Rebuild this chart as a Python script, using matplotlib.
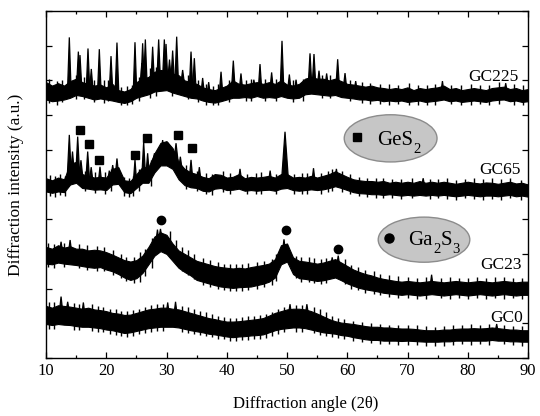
import numpy as np
import matplotlib
matplotlib.use("Agg")
import matplotlib.pyplot as plt
from matplotlib.patches import Ellipse
from matplotlib.ticker import MultipleLocator, NullFormatter

plt.rcParams['font.family'] = ['Liberation Serif', 'DejaVu Serif']
plt.rcParams['mathtext.fontset'] = 'stix'

# ---------------- data ----------------
angle_grid = np.arange(10, 91, 1)   # 2theta sampling of the noise band

gc225_top = [7.95, 7.85, 7.92, 7.85, 7.98, 8.05, 7.95, 7.90, 7.85, 7.88, 7.80,
             7.90, 7.72, 7.68, 7.75, 7.95, 8.05, 8.10, 8.25, 8.30, 8.28,
             8.20, 8.15, 8.00, 7.95, 7.90, 7.80, 7.75, 7.72, 7.78, 7.85,
             8.00, 7.90, 7.88, 7.92, 7.95, 7.90, 7.95, 7.90, 8.00, 7.88,
             7.85, 7.90, 8.05, 8.10, 8.05, 8.05, 8.00, 8.05, 7.98, 7.90,
             7.88, 7.85, 7.82, 7.85, 7.80, 7.78, 7.75, 7.78, 7.75, 7.80,
             7.72, 7.78, 7.75, 7.78, 7.80, 7.85, 7.75, 7.78, 7.72, 7.75,
             7.78, 7.75, 7.72, 7.78, 7.80, 7.82, 7.75, 7.78, 7.72, 7.75]
gc225_bottom = [7.45, 7.40, 7.42, 7.45, 7.50, 7.58, 7.55, 7.50, 7.45, 7.48, 7.45,
                7.42, 7.38, 7.35, 7.40, 7.50, 7.55, 7.60, 7.68, 7.70, 7.72,
                7.65, 7.60, 7.55, 7.50, 7.48, 7.42, 7.38, 7.36, 7.40, 7.45,
                7.50, 7.50, 7.52, 7.50, 7.55, 7.50, 7.52, 7.50, 7.55, 7.50,
                7.48, 7.50, 7.60, 7.62, 7.60, 7.58, 7.56, 7.58, 7.52, 7.50,
                7.48, 7.45, 7.45, 7.42, 7.44, 7.40, 7.42, 7.40, 7.42, 7.38,
                7.40, 7.42, 7.38, 7.40, 7.42, 7.45, 7.40, 7.42, 7.38, 7.40,
                7.42, 7.40, 7.38, 7.42, 7.44, 7.45, 7.40, 7.42, 7.38, 7.40]
gc225_peak_pos = [13.87, 15.37, 15.64, 16.97, 17.52, 18.85, 20.79, 21.78, 24.77,
                  25.9, 26.04, 26.49, 27.70, 28.70, 29.64, 29.92, 30.5, 31.02,
                  31.69, 32.68, 34.07, 34.62, 36.0, 37.0, 39.05, 41.09, 42.36,
                  44.5, 45.52, 47.45, 49.17, 50.39, 51.5, 53.82, 54.48, 55.31,
                  56.58, 58.41, 59.63, 61.4, 75.8, 86.3]
gc225_peak_top = [9.24, 8.83, 8.73, 8.92, 8.33, 8.90, 8.70, 9.09, 9.10,
                  8.50, 9.07, 9.18, 8.97, 9.18, 9.18, 9.05, 8.60, 8.86,
                  9.26, 8.30, 8.83, 8.64, 8.07, 7.95, 8.25, 8.57, 8.20,
                  8.02, 8.47, 8.23, 9.14, 8.17, 8.02, 8.78, 8.76, 8.28,
                  8.20, 8.61, 8.21, 7.98, 7.98, 7.92]
gc225_peak_base = [7.7, 7.8, 7.8, 7.7, 7.7, 7.65, 7.65, 7.65, 7.6,
                   7.8, 7.8, 7.85, 7.9, 8.0, 8.0, 8.0, 8.0, 7.95,
                   7.9, 7.9, 7.75, 7.7, 7.6, 7.55, 7.6, 7.75, 7.7,
                   7.7, 7.7, 7.7, 7.75, 7.7, 7.65, 7.85, 7.85, 7.8,
                   7.8, 7.8, 7.75, 7.65, 7.6, 7.6]
gc225_noise_pos = [10.5, 11.8, 12.6, 15.0, 16.3, 17.9, 19.6, 20.3, 22.5, 23.4,
                   24.2, 25.4, 27.2, 28.2, 30.9, 33.5, 35.3, 36.6, 37.8, 38.6,
                   40.4, 43.2, 44.0, 46.3, 48.2, 51.0, 52.6, 55.8, 57.2, 60.5,
                   62.5, 63.8, 65.4, 67.0, 68.5, 70.3, 71.7, 73.2, 74.6, 77.3,
                   78.8, 80.5, 82.0, 83.6, 85.2, 87.6, 89.2]
gc225_noise_low = [7.35, 7.30, 7.38, 7.45, 7.45, 7.38, 7.35, 7.40, 7.28, 7.30,
                   7.32, 7.40, 7.50, 7.55, 7.55, 7.45, 7.38, 7.30, 7.28, 7.30,
                   7.38, 7.42, 7.40, 7.40, 7.42, 7.38, 7.42, 7.50, 7.48, 7.40,
                   7.35, 7.33, 7.33, 7.30, 7.32, 7.28, 7.30, 7.30, 7.30, 7.32,
                   7.28, 7.30, 7.32, 7.28, 7.32, 7.30, 7.30]
gc225_noise_high = [8.05, 7.98, 8.02, 8.15, 8.10, 8.00, 8.02, 8.00, 7.80, 7.85,
                    7.88, 8.10, 8.35, 8.40, 8.45, 8.15, 8.02, 7.90, 7.85, 7.90,
                    8.00, 8.02, 8.05, 8.05, 8.05, 8.00, 8.05, 8.15, 8.15, 8.00,
                    7.95, 7.92, 7.90, 7.90, 7.88, 7.92, 7.86, 7.88, 7.90, 7.88,
                    7.86, 7.90, 7.88, 7.86, 7.95, 7.90, 7.88]

gc65_top = [5.18, 5.12, 5.20, 5.15, 5.60, 5.65, 5.30, 5.25, 5.20, 5.22, 5.20,
            5.45, 5.50, 5.12, 5.10, 5.30, 5.50, 5.50, 5.90, 6.20, 6.25,
            6.05, 5.65, 5.45, 5.35, 5.30, 5.22, 5.18, 5.30, 5.28, 5.20,
            5.22, 5.30, 5.18, 5.22, 5.20, 5.22, 5.25, 5.20, 5.30, 5.30,
            5.20, 5.22, 5.20, 5.25, 5.20, 5.25, 5.30, 5.38, 5.30, 5.22,
            5.15, 5.12, 5.10, 5.10, 5.08, 5.10, 5.05, 5.08, 5.05, 5.08,
            5.05, 5.10, 5.05, 5.08, 5.05, 5.08, 5.05, 5.02, 5.05, 5.08,
            5.05, 5.03, 5.06, 5.05, 5.02, 5.05, 5.08, 5.03, 5.05, 5.00]
gc65_bottom = [4.80, 4.76, 4.80, 4.78, 5.00, 5.05, 4.90, 4.88, 4.85, 4.86, 4.84,
               5.00, 5.02, 4.78, 4.75, 4.90, 5.05, 5.05, 5.35, 5.55, 5.55,
               5.45, 5.15, 4.98, 4.92, 4.90, 4.82, 4.80, 4.88, 4.90, 4.84,
               4.85, 4.88, 4.82, 4.84, 4.82, 4.84, 4.85, 4.82, 4.88, 4.90,
               4.84, 4.82, 4.84, 4.86, 4.84, 4.86, 4.90, 4.95, 4.90, 4.84,
               4.78, 4.75, 4.74, 4.72, 4.72, 4.70, 4.72, 4.70, 4.68, 4.70,
               4.68, 4.70, 4.68, 4.70, 4.68, 4.70, 4.68, 4.66, 4.68, 4.70,
               4.68, 4.66, 4.68, 4.68, 4.66, 4.68, 4.70, 4.66, 4.68, 4.65]
gc65_peak_pos = [13.87, 14.4, 15.26, 15.8, 16.92, 17.5, 18.96, 20.5, 21.07, 21.78,
                 24.77, 26.21, 26.87, 28.0, 29.36, 30.3, 31.58, 32.3, 34.07, 35.45,
                 42.2, 47.2, 49.67, 54.4, 58.2, 72.6]
gc65_peak_top = [6.43, 5.95, 6.38, 5.70, 5.95, 5.50, 5.51, 5.40, 5.56, 5.75,
                 5.71, 6.23, 5.90, 5.90, 6.28, 6.20, 6.19, 5.80, 5.71, 5.50,
                 5.45, 5.40, 6.52, 5.47, 5.45, 5.18]
gc65_peak_base = [5.3, 5.3, 5.3, 5.2, 5.1, 5.05, 5.0, 5.0, 5.2, 5.2,
                  4.95, 5.2, 5.2, 5.6, 5.9, 5.9, 5.7, 5.4, 5.1, 5.05,
                  5.05, 5.0, 5.05, 5.0, 5.1, 4.9]
gc65_peak_halfwidth = [0.32, 0.32, 0.32, 0.32, 0.32, 0.32, 0.32, 0.32, 0.32, 0.32,
                       0.32, 0.32, 0.32, 0.32, 0.32, 0.32, 0.32, 0.32, 0.32, 0.32,
                       0.32, 0.32, 0.60, 0.32, 0.32, 0.32]
gc65_noise_pos = [10.6, 11.5, 12.3, 13.1, 16.5, 18.2, 19.8, 20.8, 23.0, 23.8,
                  24.4, 25.5, 27.5, 33.2, 35.0, 36.5, 37.6, 39.4, 40.6, 43.4,
                  44.8, 45.7, 48.2, 51.2, 52.5, 53.4, 55.6, 56.8, 57.5, 59.2,
                  60.5, 62.0, 63.3, 64.7, 66.0, 67.5, 69.0, 70.8, 73.7, 75.0,
                  76.5, 78.0, 79.5, 81.0, 82.5, 84.0, 85.6, 87.0, 88.8]
gc65_noise_low = [4.68, 4.65, 4.70, 4.68, 4.80, 4.75, 4.74, 4.80, 4.66, 4.65,
                  4.68, 4.80, 4.95, 4.88, 4.80, 4.72, 4.70, 4.78, 4.74, 4.72,
                  4.72, 4.72, 4.72, 4.74, 4.72, 4.72, 4.74, 4.78, 4.80, 4.78,
                  4.72, 4.66, 4.64, 4.62, 4.60, 4.62, 4.58, 4.60, 4.58, 4.60,
                  4.58, 4.56, 4.60, 4.58, 4.56, 4.58, 4.56, 4.60, 4.56]
gc65_noise_high = [5.28, 5.25, 5.30, 5.25, 5.40, 5.35, 5.35, 5.45, 5.22, 5.20,
                   5.25, 5.45, 5.70, 5.55, 5.40, 5.32, 5.30, 5.40, 5.32, 5.30,
                   5.32, 5.35, 5.30, 5.30, 5.32, 5.32, 5.32, 5.38, 5.45, 5.40,
                   5.30, 5.22, 5.20, 5.18, 5.20, 5.15, 5.16, 5.18, 5.16, 5.15,
                   5.18, 5.14, 5.16, 5.20, 5.15, 5.18, 5.16, 5.20, 5.14]

gc23_top = [3.20, 3.15, 3.25, 3.18, 3.22, 3.15, 3.15, 3.10, 3.12, 3.10, 3.05,
            2.98, 2.90, 2.82, 2.78, 2.82, 2.95, 3.20, 3.50, 3.62, 3.55,
            3.30, 3.10, 3.00, 2.90, 2.80, 2.75, 2.70, 2.65, 2.62, 2.60,
            2.58, 2.60, 2.58, 2.62, 2.65, 2.68, 2.72, 2.85, 3.25, 3.30,
            2.90, 2.80, 2.78, 2.75, 2.72, 2.75, 2.80, 2.85, 2.75, 2.65,
            2.55, 2.48, 2.42, 2.38, 2.32, 2.28, 2.25, 2.22, 2.20, 2.22,
            2.20, 2.18, 2.20, 2.22, 2.20, 2.18, 2.20, 2.22, 2.20, 2.18,
            2.20, 2.22, 2.20, 2.18, 2.20, 2.22, 2.20, 2.18, 2.20, 2.20]
gc23_bottom = [2.72, 2.70, 2.75, 2.72, 2.70, 2.68, 2.65, 2.62, 2.60, 2.62, 2.55,
               2.50, 2.42, 2.32, 2.25, 2.30, 2.45, 2.70, 2.95, 3.08, 3.00,
               2.80, 2.60, 2.48, 2.38, 2.25, 2.20, 2.15, 2.10, 2.06, 2.04,
               2.02, 2.04, 2.05, 2.06, 2.10, 2.14, 2.20, 2.32, 2.70, 2.78,
               2.42, 2.30, 2.28, 2.25, 2.22, 2.24, 2.28, 2.32, 2.24, 2.15,
               2.08, 2.02, 1.98, 1.95, 1.92, 1.88, 1.86, 1.84, 1.82, 1.84,
               1.82, 1.80, 1.82, 1.84, 1.82, 1.80, 1.82, 1.84, 1.82, 1.80,
               1.82, 1.84, 1.82, 1.80, 1.82, 1.84, 1.82, 1.80, 1.82, 1.82]
gc23_peak_pos = [12.5, 14.0, 28.5, 29.0, 49.5, 57.5, 58.5, 74.0]
gc23_peak_top = [3.35, 3.40, 3.70, 3.72, 3.42, 2.90, 2.95, 2.40]
gc23_peak_base = [3.0, 3.0, 3.3, 3.4, 3.0, 2.6, 2.6, 2.0]
gc23_noise_pos = [10.4, 11.3, 13.0, 15.4, 16.8, 18.5, 19.7, 21.2, 22.5, 23.3,
                  24.6, 25.6, 26.5, 27.6, 30.5, 31.5, 32.6, 33.6, 34.5, 36.0,
                  37.3, 38.5, 39.6, 40.5, 41.6, 42.6, 43.5, 45.0, 46.2, 47.5,
                  48.2, 51.5, 52.4, 53.6, 54.5, 55.6, 56.5, 59.6, 60.6, 61.8,
                  63.0, 64.5, 65.5, 67.0, 68.5, 70.0, 71.5, 73.0, 75.5, 77.0,
                  78.5, 80.0, 81.5, 83.0, 84.5, 86.0, 87.5, 89.0]
gc23_noise_low = [2.62, 2.60, 2.62, 2.58, 2.55, 2.50, 2.52, 2.40, 2.30, 2.22,
                  2.15, 2.20, 2.35, 2.60, 2.90, 2.70, 2.50, 2.38, 2.28, 2.10,
                  2.05, 2.00, 1.96, 1.92, 1.92, 1.94, 1.95, 1.98, 2.04, 2.10,
                  2.22, 2.30, 2.20, 2.18, 2.15, 2.12, 2.15, 2.12, 2.00, 1.95,
                  1.88, 1.85, 1.82, 1.76, 1.72, 1.72, 1.70, 1.70, 1.72, 1.70,
                  1.72, 1.70, 1.72, 1.70, 1.72, 1.70, 1.72, 1.70]
gc23_noise_high = [3.30, 3.28, 3.30, 3.28, 3.25, 3.22, 3.20, 3.10, 3.00, 2.92,
                   2.90, 3.05, 3.15, 3.45, 3.65, 3.40, 3.20, 3.10, 3.00, 2.88,
                   2.82, 2.78, 2.72, 2.72, 2.70, 2.72, 2.74, 2.78, 2.80, 2.85,
                   3.00, 2.95, 2.92, 2.90, 2.88, 2.85, 2.88, 2.85, 2.68, 2.62,
                   2.55, 2.50, 2.42, 2.38, 2.35, 2.32, 2.30, 2.32, 2.30, 2.32,
                   2.30, 2.30, 2.32, 2.30, 2.32, 2.33, 2.30, 2.30]

gc0_top = [1.50, 1.45, 1.52, 1.50, 1.48, 1.45, 1.42, 1.45, 1.40, 1.38, 1.35,
           1.30, 1.28, 1.24, 1.25, 1.30, 1.35, 1.40, 1.42, 1.45, 1.45,
           1.42, 1.40, 1.35, 1.30, 1.25, 1.20, 1.15, 1.12, 1.08, 1.05,
           1.05, 1.06, 1.08, 1.10, 1.12, 1.15, 1.22, 1.30, 1.35, 1.40,
           1.42, 1.42, 1.40, 1.35, 1.28, 1.20, 1.12, 1.06, 1.02, 1.00,
           0.98, 0.95, 0.92, 0.90, 0.90, 0.88, 0.88, 0.86, 0.85, 0.85,
           0.84, 0.82, 0.80, 0.80, 0.80, 0.82, 0.82, 0.84, 0.85, 0.85,
           0.86, 0.85, 0.86, 0.88, 0.86, 0.84, 0.82, 0.82, 0.80, 0.80]
gc0_bottom = [0.98, 0.95, 0.98, 0.96, 0.95, 0.92, 0.90, 0.90, 0.88, 0.86, 0.82,
              0.80, 0.76, 0.72, 0.74, 0.78, 0.82, 0.86, 0.88, 0.90, 0.90,
              0.90, 0.88, 0.84, 0.80, 0.77, 0.74, 0.70, 0.68, 0.65, 0.62,
              0.60, 0.62, 0.63, 0.65, 0.66, 0.68, 0.74, 0.80, 0.84, 0.86,
              0.88, 0.88, 0.86, 0.82, 0.78, 0.74, 0.72, 0.70, 0.66, 0.64,
              0.60, 0.57, 0.54, 0.52, 0.52, 0.50, 0.50, 0.50, 0.49, 0.50,
              0.49, 0.48, 0.47, 0.47, 0.47, 0.48, 0.48, 0.50, 0.50, 0.50,
              0.50, 0.50, 0.50, 0.52, 0.50, 0.50, 0.48, 0.48, 0.47, 0.47]
gc0_peak_pos = [12.5, 13.6, 16.2, 30.2, 31.5, 50.5, 53.3, 84.8]
gc0_peak_top = [1.77, 1.62, 1.60, 1.60, 1.62, 1.55, 1.55, 0.98]
gc0_peak_base = [1.3, 1.3, 1.2, 1.2, 1.2, 1.2, 1.2, 0.7]
gc0_noise_pos = [10.5, 11.4, 14.6, 15.4, 17.6, 18.6, 19.5, 20.6, 21.6, 22.5,
                 23.5, 24.5, 25.5, 26.5, 27.5, 28.5, 29.4, 32.6, 33.6, 34.5,
                 35.5, 36.5, 37.5, 38.5, 39.5, 40.5, 41.5, 42.5, 43.5, 44.5,
                 45.5, 46.5, 47.5, 48.5, 49.5, 51.5, 52.5, 54.5, 55.5, 56.5,
                 57.5, 58.5, 59.5, 61.0, 62.5, 64.0, 65.5, 67.0, 68.5, 70.0,
                 71.5, 73.0, 74.5, 76.0, 77.5, 79.0, 80.5, 82.0, 83.5, 86.0,
                 87.5, 89.0]
gc0_noise_low = [0.85, 0.84, 0.82, 0.80, 0.78, 0.76, 0.74, 0.70, 0.66, 0.64,
                 0.60, 0.64, 0.68, 0.72, 0.76, 0.78, 0.78, 0.76, 0.72, 0.68,
                 0.66, 0.62, 0.60, 0.55, 0.54, 0.50, 0.50, 0.52, 0.52, 0.54,
                 0.56, 0.58, 0.62, 0.70, 0.74, 0.76, 0.76, 0.72, 0.66, 0.62,
                 0.60, 0.58, 0.55, 0.50, 0.46, 0.42, 0.40, 0.40, 0.38, 0.38,
                 0.38, 0.36, 0.36, 0.36, 0.38, 0.40, 0.38, 0.40, 0.38, 0.40,
                 0.38, 0.36]
gc0_noise_high = [1.62, 1.60, 1.58, 1.55, 1.55, 1.50, 1.48, 1.42, 1.40, 1.35,
                  1.35, 1.38, 1.42, 1.48, 1.52, 1.55, 1.55, 1.50, 1.46, 1.42,
                  1.36, 1.32, 1.26, 1.22, 1.18, 1.16, 1.15, 1.18, 1.20, 1.22,
                  1.25, 1.28, 1.34, 1.42, 1.48, 1.52, 1.52, 1.46, 1.40, 1.32,
                  1.22, 1.16, 1.12, 1.08, 1.05, 1.00, 0.98, 0.96, 0.96, 0.95,
                  0.94, 0.92, 0.90, 0.92, 0.95, 0.96, 0.98, 0.96, 0.98, 0.95,
                  0.92, 0.92]

trace_names = ["GC225", "GC65", "GC23", "GC0"]
label_angle = [88.4, 88.7, 88.95, 89.2]
label_level = [8.1, 5.42, 2.68, 1.15]

ges2_angles = [15.64, 17.08, 18.85, 24.83, 26.71, 31.85, 34.23]
ges2_levels = [6.57, 6.17, 5.71, 5.85, 6.35, 6.43, 6.06]
ga2s3_angles = [29.09, 49.83, 58.52]
ga2s3_levels = [3.98, 3.69, 3.14]

# ---------------- figure ----------------
fig = plt.figure(figsize=(5.4, 4.16), dpi=100)
ax = fig.add_axes([46/540, 58/416, 482/540, 347/416])

def draw_trace(top, bottom, npos, nlow, nhigh, ppos, ptop, pbase, phw=None):
    ax.fill_between(angle_grid, bottom, top, color='k', lw=0.8, edgecolor='k')
    ax.vlines(npos, nlow, nhigh, color='k', lw=1.0)
    for i, (a, t, b) in enumerate(zip(ppos, ptop, pbase)):
        hw = 0.3 if phw is None else phw[i]
        ax.fill([a - hw, a, a + hw], [b, t, b], color='k', lw=0.9)

draw_trace(gc225_top, gc225_bottom, gc225_noise_pos, gc225_noise_low, gc225_noise_high,
           gc225_peak_pos, gc225_peak_top, gc225_peak_base)
draw_trace(gc65_top, gc65_bottom, gc65_noise_pos, gc65_noise_low, gc65_noise_high,
           gc65_peak_pos, gc65_peak_top, gc65_peak_base, gc65_peak_halfwidth)
draw_trace(gc23_top, gc23_bottom, gc23_noise_pos, gc23_noise_low, gc23_noise_high,
           gc23_peak_pos, gc23_peak_top, gc23_peak_base)
draw_trace(gc0_top, gc0_bottom, gc0_noise_pos, gc0_noise_low, gc0_noise_high,
           gc0_peak_pos, gc0_peak_top, gc0_peak_base)

ax.plot(ges2_angles, ges2_levels, ls='none', marker='s', ms=5.2, color='k')
ax.plot(ga2s3_angles, ga2s3_levels, ls='none', marker='o', ms=6, color='k')

for name, a, lv in zip(trace_names, label_angle, label_level):
    ax.text(a, lv, name, ha='right', va='center', fontsize=12.5)

# legend ellipses
e1 = Ellipse((67.2, 6.33), 15.4, 1.36, facecolor='#c6c6c6', edgecolor='#8c8c8c', lw=1.0, zorder=3)
e2 = Ellipse((72.74, 3.41), 15.2, 1.30, facecolor='#c6c6c6', edgecolor='#8c8c8c', lw=1.0, zorder=3)
ax.add_patch(e1)
ax.add_patch(e2)


def formula(x, y, parts, big=15, small=10.5, drop=-4.5):
    """Write chemical formula: parts alternate main text and subscripts."""
    prev = None
    first = None
    for k, part in enumerate(parts):
        is_sub = (k % 2 == 1)
        if prev is None:
            t = ax.text(x, y, part, ha='left', va='baseline', fontsize=big, zorder=4)
            first = t
        else:
            t = ax.annotate(part, xy=(1, 0), xycoords=(prev, first),
                            xytext=(0.3, drop if is_sub else 0),
                            textcoords='offset points', ha='left', va='bottom',
                            fontsize=small if is_sub else big, zorder=4)
        prev = t


ax.plot([61.7], [6.37], ls='none', marker='s', ms=5.5, color='k', zorder=4)
formula(64.94, 6.15, ["GeS", "2"])
ax.plot([66.9], [3.47], ls='none', marker='o', ms=6.5, color='k', zorder=4)
formula(70.08, 3.25, ["Ga", "2", "S", "3"])

ax.set_xlim(10, 90)
ax.set_ylim(0, 10)
ax.xaxis.set_major_locator(MultipleLocator(10))
ax.xaxis.set_minor_locator(MultipleLocator(5))
ax.yaxis.set_major_locator(MultipleLocator(1))
ax.yaxis.set_major_formatter(NullFormatter())
ax.tick_params(which='both', direction='in', top=True, right=True, width=0.9)
ax.tick_params(which='major', length=4, labelsize=12)
ax.tick_params(which='minor', length=2.5)
for s in ax.spines.values():
    s.set_linewidth(1.0)

ax.set_xlabel("Diffraction angle (2θ)", fontsize=12)
ax.set_ylabel("Diffraction intensity (a.u.)", fontsize=12.5)
ax.xaxis.set_label_coords(0.539, -0.11)
ax.yaxis.set_label_coords(-0.045, 0.5)

fig.savefig("out.png", dpi=100)
